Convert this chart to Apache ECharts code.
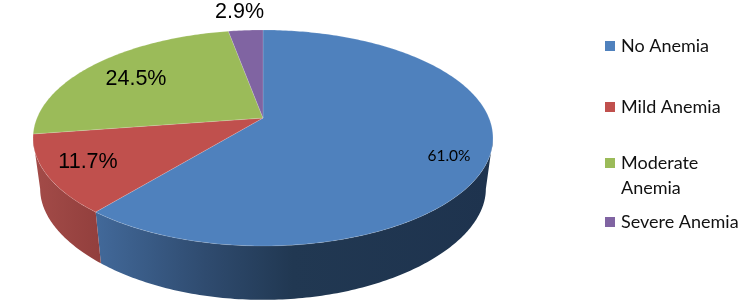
<!DOCTYPE html>
<html><head><meta charset="utf-8">
<style>html,body{margin:0;padding:0;background:#fff}#c{width:740px;height:304px}</style>
<script src="https://cdn.jsdelivr.net/npm/echarts@6/dist/echarts.min.js"></script>
</head><body><div id="c"></div>
<script>
const categories = ['No Anemia', 'Mild Anemia', 'Moderate Anemia', 'Severe Anemia'];
const percentages = [61.0, 11.7, 24.5, 2.9];
const valueLabels = ['61.0%', '11.7%', '24.5%', '2.9%'];
const topColors = ['#4f81bd', '#c0504d', '#9bbb59', '#8064a2'];

// projection of the tilted disc
const P = 0.185;
const TOP = {x: 263, y: 118, a: 226, b: 104.3, py: 0.185};
const BOT = {x: 263, y: 170, a: 219, b: 97.4, py: 0.25};
const sideFills = [
  {x: 95, x2: 490, stops: [[0, '#42699a'], [0.28, '#2f4b6f'], [0.5, '#213852'], [1, '#1e334e']]},
  {x: 35, x2: 100, stops: [[0, '#a34b48'], [1, '#923f3d']]}
];
const labelPos = [
  {x: 449, y: 156, font: '15.5px Lato'},
  {x: 88, y: 162, font: '21.5px "Liberation Sans"'},
  {x: 136, y: 79, font: '21.5px "Liberation Sans"'},
  {x: 239.5, y: 12, font: '21.5px "Liberation Sans"'}
];
const legendTops = [37, 98, 154, 213];
const total = percentages.reduce((a, b) => a + b, 0);
const TL = Math.acos(-P), TR = 2 * Math.PI - TL; // right / left silhouette angles

function proj(f, t) {
  const u = Math.sin(t), v = Math.cos(t);
  return [f.x + f.a * u / (1 + P * v), f.y - f.b * v / (1 + f.py * v)];
}
function arc(f, a, b) {
  const n = Math.max(2, Math.ceil(Math.abs(b - a) / 0.015)), out = [];
  for (let i = 0; i <= n; i++) out.push(proj(f, a + (b - a) * i / n));
  return out;
}
function makeRender(idx) {
  return function (params, api) {
    const value = api.value(0);
    let before = 0;
    for (let i = 0; i < idx; i++) before += percentages[i];
    const a = before / total * 2 * Math.PI, b = (before + value) / total * 2 * Math.PI;
    const children = [];
    const sa = Math.max(a, TL), sb = Math.min(b, TR);
    if (sb > sa && sideFills[idx]) {
      const s = sideFills[idx];
      const pts = arc(TOP, sa, sb).concat(arc(BOT, sb, sa));
      children.push({
        type: 'polygon', z2: 1, shape: {points: pts},
        style: {fill: {type: 'linear', x: s.x, y: 0, x2: s.x2, y2: 0, global: true,
          colorStops: s.stops.map(c => ({offset: c[0], color: c[1]}))}}
      });
    }
    children.push({
      type: 'polygon', z2: 2, shape: {points: [[TOP.x, TOP.y]].concat(arc(TOP, a, b))},
      style: {fill: topColors[idx], stroke: 'rgba(255,255,255,0.25)', lineWidth: 0.6}
    });
    const l = labelPos[idx];
    children.push({
      type: 'text', z2: 3, x: l.x, y: l.y,
      style: {text: valueLabels[idx], font: l.font, fill: '#000', align: 'center', verticalAlign: 'middle'}
    });
    return {type: 'group', children};
  };
}
const chart = echarts.init(document.getElementById('c'), null, {renderer: 'canvas'});
chart.setOption({
  animation: false,
  backgroundColor: '#fff',
  legend: categories.map((name, i) => ({
    data: [name], left: 605, top: legendTops[i], orient: 'vertical',
    icon: 'rect', itemWidth: 10, itemHeight: 10, itemGap: 0,
    selectedMode: false, padding: 0,
    formatter: n => n === 'Moderate Anemia' ? 'Moderate' : n,
    textStyle: {fontFamily: 'Lato', fontSize: 18, color: '#111', padding: [0, 0, 0, 1]}
  })),
  graphic: [{type: 'text', left: 621, top: 179,
    style: {text: 'Anemia', font: '18px Lato', fill: '#111'}}],
  series: categories.map((name, i) => ({
    type: 'custom', name, coordinateSystem: 'none', silent: true,
    itemStyle: {color: topColors[i]},
    data: [[percentages[i]]],
    renderItem: makeRender(i)
  }))
});
</script></body></html>
